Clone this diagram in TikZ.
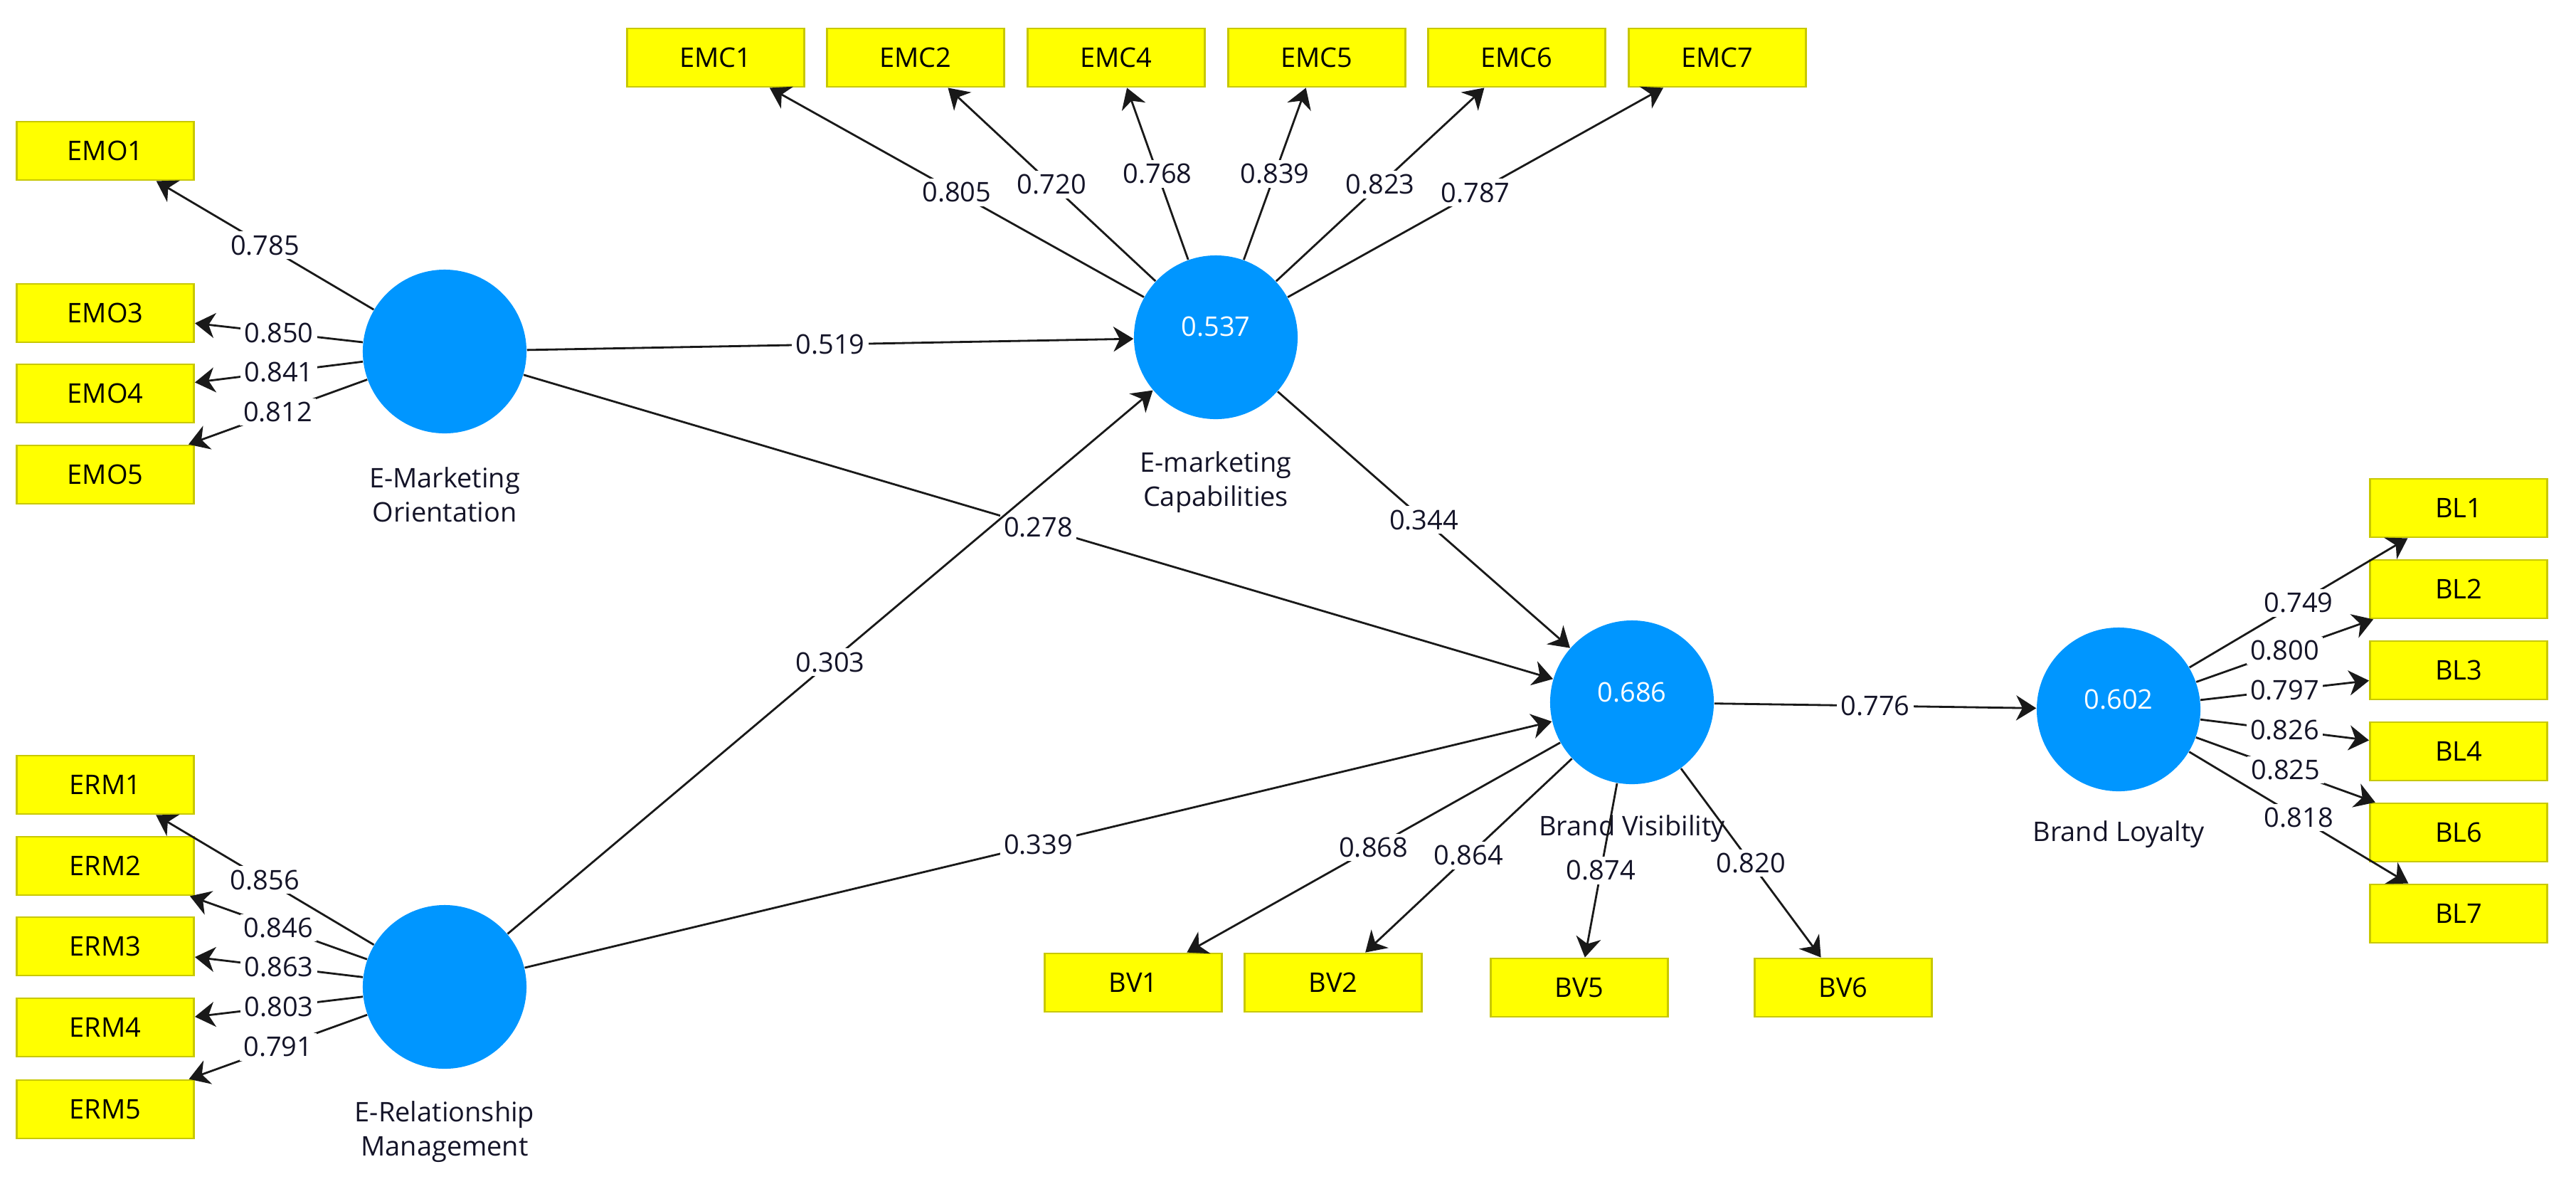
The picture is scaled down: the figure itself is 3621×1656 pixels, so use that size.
\documentclass[tikz,border=0pt]{standalone}
\usepackage{fontspec}
\setmainfont{Open Sans}
\usetikzlibrary{arrows.meta}
\definecolor{lvblue}{RGB}{0,150,255}
\definecolor{indyellow}{RGB}{255,255,0}
\definecolor{indborder}{RGB}{200,200,0}
\definecolor{txtc}{RGB}{20,20,40}
\newcommand{\dfont}{\fontsize{10.8}{13.6}\selectfont}
\begin{document}
\begin{tikzpicture}[x=0.01cm,y=-0.01cm,
  ind/.style={draw=indborder, fill=indyellow, line width=0.8pt, minimum width=2.49cm, minimum height=0.82cm, inner sep=0pt, font=\dfont, text=black},
  lv/.style={circle, fill=lvblue, minimum size=2.3cm, inner sep=0pt},
  lvval/.style={font=\dfont, text=white, inner sep=0pt},
  lvname/.style={align=center, font=\dfont, text=txtc, inner sep=0pt, anchor=north},
  conn/.style={draw=black!90, line width=0.8pt, -{Stealth[length=8pt,width=10pt,inset=2.5pt]}},
  coef/.style={fill=white, inner sep=1.5pt, font=\dfont, text=txtc}
]
\useasboundingbox (0,0) rectangle (3621,1656);

% latent variables
\node[lv] (emo) at (625,494) {};
\node[lv] (emc) at (1709,474) {};
\node[lv] (erm) at (625,1387) {};
\node[lv] (bv)  at (2294,987) {};
\node[lv] (bl)  at (2978,997) {};

\node[lvval] (emcv) at ([yshift=0.15cm]emc.center) {0.537};
\node[lvval] (bvv)  at ([yshift=0.14cm]bv.center) {0.686};
\node[lvval] (blv)  at ([yshift=0.14cm]bl.center) {0.602};

\node[lvname] (emon) at ([yshift=-0.46cm]emo.south) {E-Marketing\\Orientation};
\node[lvname] (emcn) at ([yshift=-0.44cm]emc.south) {E-marketing\\Capabilities};
\node[lvname] (ermn) at ([yshift=-0.44cm]erm.south) {E-Relationship\\Management};
\node[lvname] (bvn)  at ([yshift=-0.42cm]bv.south) {Brand Visibility};
\node[lvname] (bln)  at ([yshift=-0.40cm]bl.south) {Brand Loyalty};

% indicators
\node[ind] (emo1) at (148,212) {EMO1};
\node[ind] (emo3) at (148,440) {EMO3};
\node[ind] (emo4) at (148,553) {EMO4};
\node[ind] (emo5) at (148,667) {EMO5};

\node[ind] (erm1) at (148,1103) {ERM1};
\node[ind] (erm2) at (148,1217) {ERM2};
\node[ind] (erm3) at (148,1330) {ERM3};
\node[ind] (erm4) at (148,1444) {ERM4};
\node[ind] (erm5) at (148,1559) {ERM5};

\node[ind] (emc1) at (1006,81) {EMC1};
\node[ind] (emc2) at (1287,81) {EMC2};
\node[ind] (emc4) at (1569,81) {EMC4};
\node[ind] (emc5) at (1851,81) {EMC5};
\node[ind] (emc6) at (2132,81) {EMC6};
\node[ind] (emc7) at (2414,81) {EMC7};

\node[ind] (bv1) at (1593,1381) {BV1};
\node[ind] (bv2) at (1874,1381) {BV2};
\node[ind] (bv5) at (2220,1388) {BV5};
\node[ind] (bv6) at (2591,1388) {BV6};

\node[ind] (bl1) at (3456,714) {BL1};
\node[ind] (bl2) at (3456,828) {BL2};
\node[ind] (bl3) at (3456,942) {BL3};
\node[ind] (bl4) at (3456,1056) {BL4};
\node[ind] (bl6) at (3456,1170) {BL6};
\node[ind] (bl7) at (3456,1284) {BL7};

% outer loadings
\draw[conn] (emo) -- node[coef]{0.785} (emo1);
\draw[conn] (emo) -- node[coef]{0.850} (emo3);
\draw[conn] (emo) -- node[coef]{0.841} (emo4);
\draw[conn] (emo) -- node[coef]{0.812} (emo5);

\draw[conn] (erm) -- node[coef]{0.856} (erm1);
\draw[conn] (erm) -- node[coef]{0.846} (erm2);
\draw[conn] (erm) -- node[coef]{0.863} (erm3);
\draw[conn] (erm) -- node[coef]{0.803} (erm4);
\draw[conn] (erm) -- node[coef]{0.791} (erm5);

\draw[conn] (emc) -- node[coef]{0.805} (emc1);
\draw[conn] (emc) -- node[coef]{0.720} (emc2);
\draw[conn] (emc) -- node[coef]{0.768} (emc4);
\draw[conn] (emc) -- node[coef]{0.839} (emc5);
\draw[conn] (emc) -- node[coef]{0.823} (emc6);
\draw[conn] (emc) -- node[coef]{0.787} (emc7);

\draw[conn] (bv) -- node[coef]{0.868} (bv1);
\draw[conn] (bv) -- node[coef]{0.864} (bv2);
\draw[conn] (bv) -- node[coef]{0.874} (bv5);
\draw[conn] (bv) -- node[coef]{0.820} (bv6);

\draw[conn] (bl) -- node[coef]{0.749} (bl1);
\draw[conn] (bl) -- node[coef]{0.800} (bl2);
\draw[conn] (bl) -- node[coef]{0.797} (bl3);
\draw[conn] (bl) -- node[coef]{0.826} (bl4);
\draw[conn] (bl) -- node[coef]{0.825} (bl6);
\draw[conn] (bl) -- node[coef]{0.818} (bl7);

% structural paths
\draw[conn] (emo) -- node[coef]{0.519} (emc);
\draw[conn] (emo) -- node[coef]{0.278} (bv);
\draw[conn] (erm) -- node[coef]{0.303} (emc);
\draw[conn] (erm) -- node[coef]{0.339} (bv);
\draw[conn] (emc) -- node[coef]{0.344} (bv);
\draw[conn] (bv) -- node[coef]{0.776} (bl);
\end{tikzpicture}
\end{document}
